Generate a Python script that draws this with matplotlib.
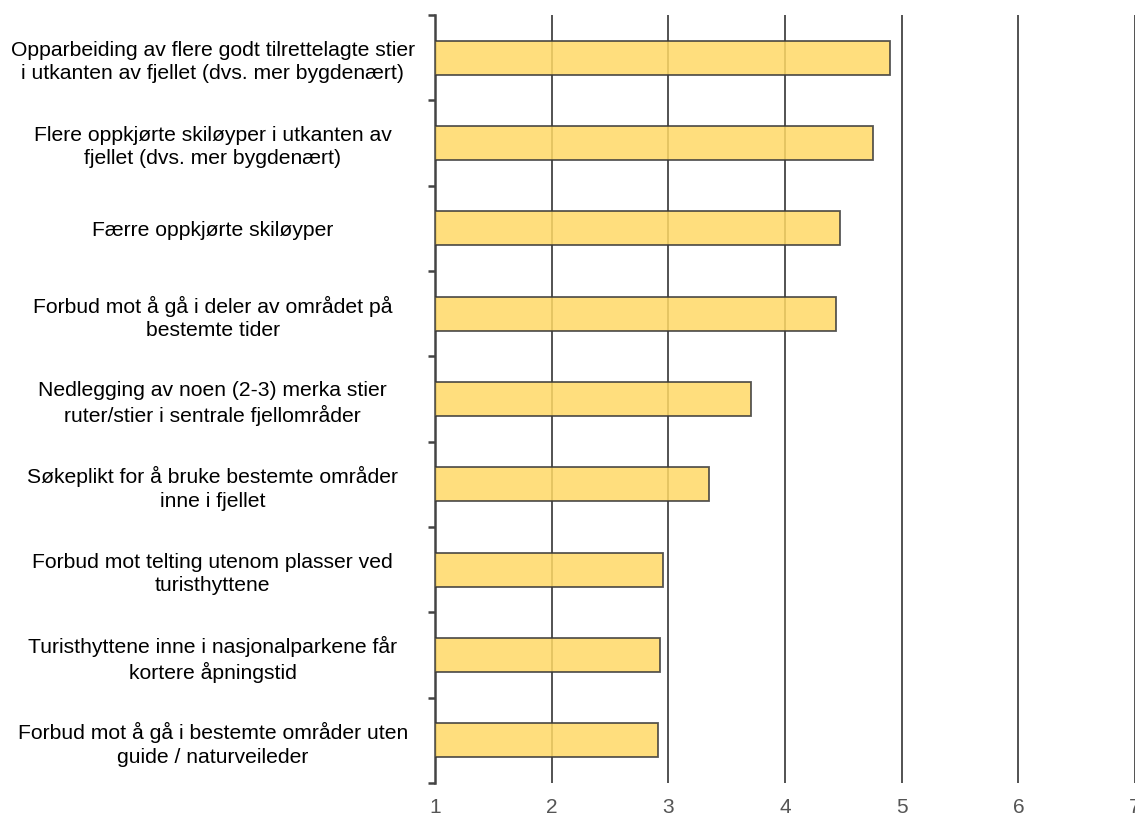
import numpy as np
import matplotlib.pyplot as plt

plt.rcParams['font.family'] = ['Liberation Sans', 'DejaVu Sans']

categories = [
    'Opparbeiding av flere godt tilrettelagte stier\ni utkanten av fjellet (dvs. mer bygdenært)',
    'Flere oppkjørte skiløyper i utkanten av\nfjellet (dvs. mer bygdenært)',
    'Færre oppkjørte skiløyper',
    'Forbud mot å gå i deler av området på\nbestemte tider',
    'Nedlegging av noen (2-3) merka stier\nruter/stier i sentrale fjellområder',
    'Søkeplikt for å bruke bestemte områder\ninne i fjellet',
    'Forbud mot telting utenom plasser ved\nturisthyttene',
    'Turisthyttene inne i nasjonalparkene får\nkortere åpningstid',
    'Forbud mot å gå i bestemte områder uten\nguide / naturveileder',
]
values = [4.90, 4.75, 4.47, 4.44, 3.71, 3.35, 2.95, 2.93, 2.91]
xticks = [1, 2, 3, 4, 5, 6, 7]

fig = plt.figure(figsize=(11.35, 8.17), dpi=100)
ax = fig.add_axes([435 / 1135, 1 - 783 / 817, 700 / 1135, 768 / 817])

n = len(categories)
y = np.arange(n)
ax.barh(y, np.array(values) - 1, left=1, height=0.4, color='#FFD966', alpha=0.85,
        edgecolor='#3a3a3a', linewidth=1.3, zorder=3)

ax.set_xlim(1, 7)
ax.set_ylim(n - 0.5, -0.5)
ax.set_xticks(xticks)
ax.set_xticklabels([str(t) for t in xticks], color='#555555', fontsize=15)
ax.tick_params(axis='x', length=0, pad=11)
for t in xticks[1:]:
    ax.axvline(t, color='#444444', linewidth=1.3, zorder=1)

ax.set_yticks(y)
ax.set_yticklabels(categories, fontsize=15.2, ha='center', multialignment='center',
                   linespacing=1.28)
ax.tick_params(axis='y', which='major', length=0, pad=160)
ax.set_yticks(np.arange(-0.5, n, 1), minor=True)
ax.tick_params(axis='y', which='minor', length=5, width=1.8, color='#444444')

for s in ['top', 'right', 'bottom']:
    ax.spines[s].set_visible(False)
ax.spines['left'].set_color('#444444')
ax.spines['left'].set_linewidth(1.8)

fig.savefig('out.png', dpi=100)
